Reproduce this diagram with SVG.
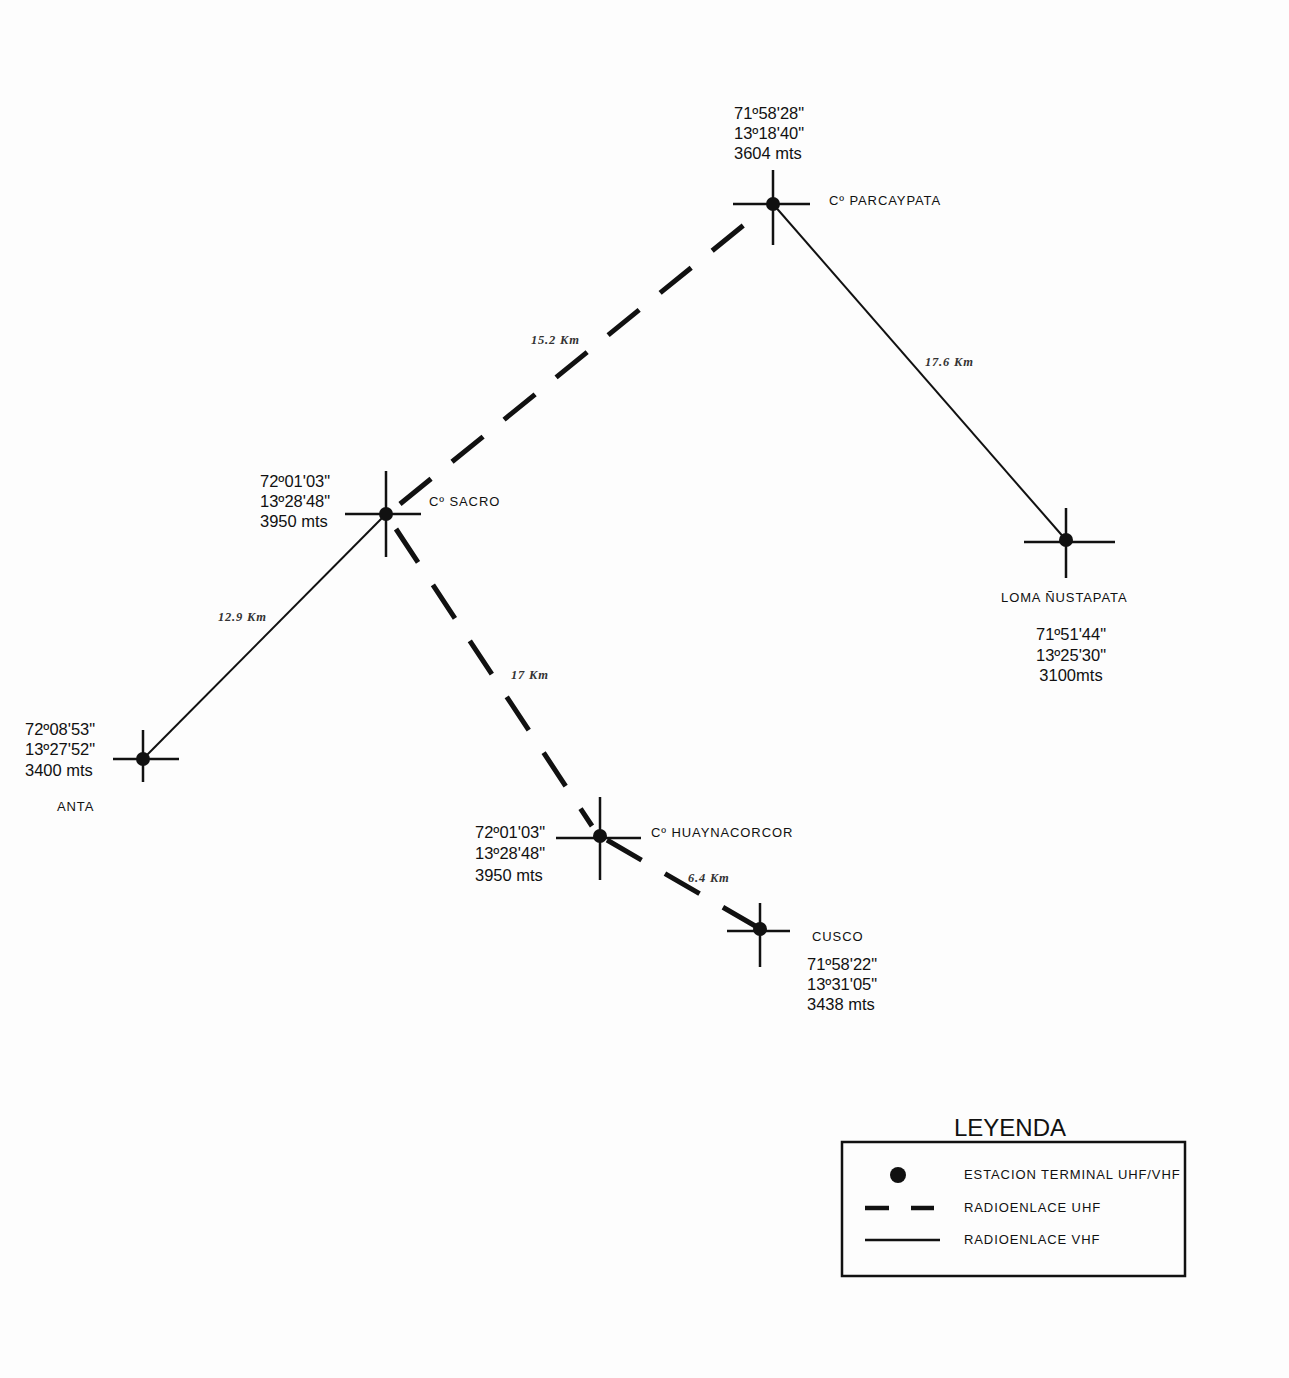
<svg xmlns="http://www.w3.org/2000/svg" width="1289" height="1378" viewBox="0 0 1289 1378">
<style>
.c{font-family:"Liberation Sans",Arial,sans-serif;font-size:16.5px;fill:#111}
.n{font-family:"Liberation Sans",Arial,sans-serif;font-size:13px;fill:#111;letter-spacing:0.9px}
.d{font-family:"Liberation Serif","Times New Roman",serif;font-size:12.5px;font-style:italic;font-weight:bold;fill:#333;letter-spacing:0.8px}
.x{stroke:#111;stroke-width:2.5;fill:none}
.v{stroke:#111;stroke-width:2;fill:none}
.u{stroke:#111;stroke-width:5;fill:none;stroke-dasharray:40 27}
</style>
<rect width="1289" height="1378" fill="#fdfdfd"/>
<g id="connectors">
<line class="v" x1="773" y1="204" x2="1066" y2="540"/>
<line class="v" x1="143" y1="759" x2="386" y2="514"/>
<line class="u" x1="400" y1="504" x2="750" y2="220"/>
<line class="u" x1="396" y1="529" x2="592" y2="826"/>
<line class="u" x1="607" y1="840" x2="757" y2="927" stroke-dasharray="30 28"/>
<text class="d" x="531" y="344">15.2  Km</text>
<text class="d" x="925" y="366">17.6  Km</text>
<text class="d" x="218" y="621">12.9 Km</text>
<text class="d" x="511" y="679">17  Km</text>
<text class="d" x="688" y="882">6.4 Km</text>
</g>
<g id="parcaypata">
<line class="x" x1="773" y1="170" x2="773" y2="245"/>
<line class="x" x1="733" y1="204" x2="810" y2="204"/>
<circle cx="773" cy="204" r="7" fill="#111"/>
<text class="c" x="734" y="119">71º58'28"</text>
<text class="c" x="734" y="139">13º18'40"</text>
<text class="c" x="734" y="159">3604 mts</text>
<text class="n" x="829" y="205">Cº PARCAYPATA</text>
</g>
<g id="sacro">
<line class="x" x1="386" y1="471" x2="386" y2="557"/>
<line class="x" x1="345" y1="514" x2="421" y2="514"/>
<circle cx="386" cy="514" r="7" fill="#111"/>
<text class="c" x="260" y="487">72º01'03"</text>
<text class="c" x="260" y="507">13º28'48"</text>
<text class="c" x="260" y="527">3950 mts</text>
<text class="n" x="429" y="506">Cº SACRO</text>
</g>
<g id="anta">
<line class="x" x1="143" y1="730" x2="143" y2="782"/>
<line class="x" x1="113" y1="759" x2="179" y2="759"/>
<circle cx="143" cy="759" r="7" fill="#111"/>
<text class="c" x="25" y="735">72º08'53"</text>
<text class="c" x="25" y="755">13º27'52"</text>
<text class="c" x="25" y="776">3400 mts</text>
<text class="n" x="57" y="811">ANTA</text>
</g>
<g id="huaynacorcor">
<line class="x" x1="600" y1="797" x2="600" y2="880"/>
<line class="x" x1="556" y1="838" x2="641" y2="838"/>
<circle cx="600" cy="836" r="7" fill="#111"/>
<text class="c" x="475" y="838">72º01'03"</text>
<text class="c" x="475" y="859">13º28'48"</text>
<text class="c" x="475" y="881">3950 mts</text>
<text class="n" x="651" y="837">Cº HUAYNACORCOR</text>
</g>
<g id="cusco">
<line class="x" x1="760" y1="903" x2="760" y2="967"/>
<line class="x" x1="727" y1="931" x2="790" y2="931"/>
<circle cx="760" cy="929" r="7" fill="#111"/>
<text class="n" x="812" y="941">CUSCO</text>
<text class="c" x="807" y="970">71º58'22"</text>
<text class="c" x="807" y="990">13º31'05"</text>
<text class="c" x="807" y="1010">3438 mts</text>
</g>
<g id="loma">
<line class="x" x1="1066" y1="508" x2="1066" y2="578"/>
<line class="x" x1="1024" y1="542" x2="1115" y2="542"/>
<circle cx="1066" cy="540" r="7" fill="#111"/>
<text class="n" x="1001" y="602">LOMA ÑUSTAPATA</text>
<text class="c" x="1071" y="640" text-anchor="middle">71º51'44"</text>
<text class="c" x="1071" y="661" text-anchor="middle">13º25'30"</text>
<text class="c" x="1071" y="681" text-anchor="middle">3100mts</text>
</g>
<g id="legend">
<text x="954" y="1136" font-family="Liberation Sans,Arial,sans-serif" font-size="24" fill="#111">LEYENDA</text>
<rect x="842" y="1142" width="343" height="134" fill="none" stroke="#111" stroke-width="2.5"/>
<circle cx="898" cy="1175" r="8" fill="#111"/>
<line x1="865" y1="1208" x2="889" y2="1208" stroke="#111" stroke-width="4.5"/>
<line x1="911" y1="1208" x2="934" y2="1208" stroke="#111" stroke-width="4.5"/>
<line x1="865" y1="1240" x2="940" y2="1240" stroke="#111" stroke-width="2.5"/>
<text class="n" x="964" y="1179">ESTACION TERMINAL UHF/VHF</text>
<text class="n" x="964" y="1212">RADIOENLACE UHF</text>
<text class="n" x="964" y="1244">RADIOENLACE VHF</text>
</g>
</svg>
